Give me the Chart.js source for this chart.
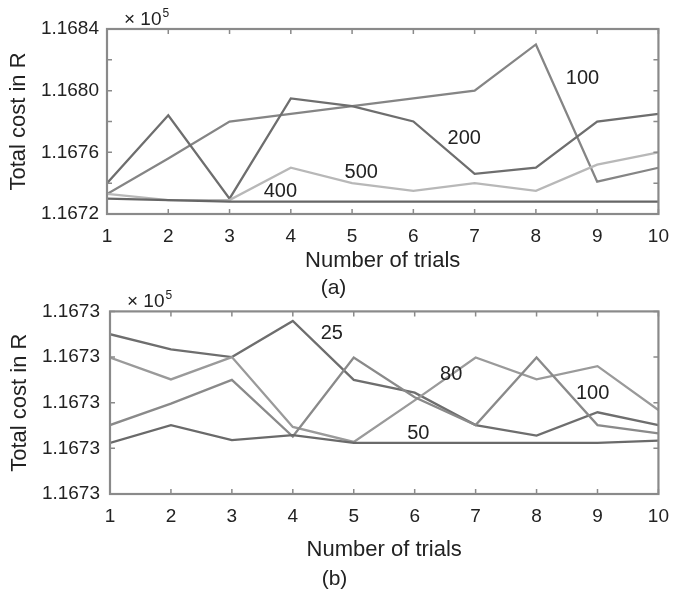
<!DOCTYPE html>
<html>
<head>
<meta charset="utf-8">
<script src="https://cdn.jsdelivr.net/npm/chart.js@4.4.0/dist/chart.umd.min.js"></script>
<style>
  body { margin: 0; background: #fff; }
  #wrapA { position: absolute; left: 0; top: 0; width: 680px; height: 305px; }
  #wrapB { position: absolute; left: 0; top: 290px; width: 680px; height: 302px; }
</style>
</head>
<body>
<div id="wrapA"><canvas id="chartA"></canvas></div>
<div id="wrapB"><canvas id="chartB"></canvas></div>
<script>
// trials on the x axis (both panels)
const trials = [1, 2, 3, 4, 5, 6, 7, 8, 9, 10];

// panel (a): total cost (x 10^5) per trial
const costA100 = [1.16733, 1.16756, 1.16780, 1.16785, 1.16790, 1.16795, 1.16800, 1.16830, 1.16741, 1.16750];
const costA200 = [1.16740, 1.16784, 1.16730, 1.16795, 1.16790, 1.16780, 1.16746, 1.16750, 1.16780, 1.16785];
const costA500 = [1.16733, 1.16729, 1.16729, 1.16750, 1.16740, 1.16735, 1.16740, 1.16735, 1.16752, 1.16760];
const costA400 = [1.16730, 1.16729, 1.16728, 1.16728, 1.16728, 1.16728, 1.16728, 1.16728, 1.16728, 1.16728];

// panel (b)
const costB25 = [1.1672950, 1.1672917, 1.1672900, 1.1672979, 1.1672850, 1.1672822, 1.1672751, 1.1672728, 1.1672779, 1.1672751];
const costB80 = [1.1672899, 1.1672851, 1.1672900, 1.1672747, 1.1672714, 1.1672805, 1.1672899, 1.1672851, 1.1672880, 1.1672784];
const costB100 = [1.1672751, 1.1672798, 1.1672850, 1.1672726, 1.1672899, 1.1672812, 1.1672751, 1.1672899, 1.1672751, 1.1672733];
const costB50 = [1.1672712, 1.1672751, 1.1672718, 1.1672729, 1.1672712, 1.1672712, 1.1672712, 1.1672712, 1.1672712, 1.1672717];

// y axis ranges / steps
const yRangeA = [1.1672, 1.1684, 0.0002];
const yRangeB = [1.16726, 1.16730, 0.00001];

// curve labels: [text, trial, cost]
const labelsA = [["100", 8.76, 1.168076], ["200", 6.83, 1.167693], ["500", 5.15, 1.167472], ["400", 3.83, 1.167349]];
const labelsB = [["25", 4.64, 1.1672952], ["80", 6.60, 1.1672862], ["100", 8.92, 1.1672821], ["50", 6.06, 1.1672732]];

const FONT = "'Liberation Sans', Arial, Helvetica, sans-serif";
const TXT = "#222";

function pts(arr) {
  return arr.map((v, i) => ({ x: trials[i], y: v }));
}

// MATLAB-ish frame with inward ticks, curve labels and the x10^5 note
const framePlugin = {
  id: "frame",
  afterDatasetsDraw(chart, args, opts) {
    const ctx = chart.ctx;
    const a = chart.chartArea;
    const x = chart.scales.x, y = chart.scales.y;
    ctx.save();
    ctx.strokeStyle = "#8a8a8a";
    ctx.lineWidth = 1.5;
    ctx.beginPath();
    x.ticks.forEach(t => {
      const px = x.getPixelForValue(t.value);
      ctx.moveTo(px, a.bottom); ctx.lineTo(px, a.bottom - 5);
      ctx.moveTo(px, a.top); ctx.lineTo(px, a.top + 5);
    });
    y.ticks.forEach(t => {
      const py = y.getPixelForValue(t.value);
      ctx.moveTo(a.left, py); ctx.lineTo(a.left + 5, py);
      ctx.moveTo(a.right, py); ctx.lineTo(a.right - 5, py);
    });
    ctx.stroke();
    ctx.lineWidth = 2.2;
    ctx.strokeRect(a.left, a.top, a.right - a.left, a.bottom - a.top);

    ctx.fillStyle = TXT;
    ctx.font = "20px " + FONT;
    ctx.textAlign = "center";
    ctx.textBaseline = "middle";
    opts.labels.forEach(l => {
      ctx.fillText(l[0], x.getPixelForValue(l[1]), y.getPixelForValue(l[2]));
    });

    ctx.textAlign = "left";
    ctx.textBaseline = "alphabetic";
    ctx.font = "19px " + FONT;
    ctx.fillText("\u00d7 10", a.left + 17, a.top - 4);
    const w = ctx.measureText("\u00d7 10").width;
    ctx.font = "12px " + FONT;
    ctx.fillText("5", a.left + 18 + w, a.top - 12);
    ctx.restore();
  }
};

function makeChart(id, sets, yr, labels, lay) {
  const ds = sets.map(s => ({
    data: pts(s[0]),
    borderColor: s[1],
    borderWidth: 2.3,
    pointRadius: 0,
    tension: 0,
    fill: false
  }));
  return new Chart(document.getElementById(id), {
    type: "line",
    data: { datasets: ds },
    options: {
      responsive: true,
      maintainAspectRatio: false,
      animation: false,
      layout: { padding: lay.padding },
      plugins: {
        legend: { display: false },
        tooltip: { enabled: false },
        title: {
          display: true,
          position: "bottom",
          text: lay.caption,
          color: TXT,
          font: { family: FONT, size: 21, weight: "normal", lineHeight: 1.2 },
          padding: { top: lay.capPad, bottom: 0 }
        },
        frame: { labels: labels }
      },
      scales: {
        x: {
          type: "linear",
          min: 1,
          max: 10,
          grid: { display: false, drawTicks: false },
          border: { display: false },
          ticks: {
            stepSize: 1,
            padding: 11,
            color: TXT,
            font: { family: FONT, size: 19 }
          },
          title: {
            display: true,
            text: "Number of trials",
            color: TXT,
            font: { family: FONT, size: 22, lineHeight: 1.2 },
            padding: 0
          },
          afterFit(s) { s.height = lay.xh; }
        },
        y: {
          min: yr[0],
          max: yr[1],
          grid: { display: false, drawTicks: false },
          border: { display: false },
          ticks: {
            stepSize: yr[2],
            autoSkip: false,
            padding: lay.ytp,
            color: TXT,
            font: { family: FONT, size: 19 },
            callback: (v, i) => (i % lay.every === 0 ? Number(v).toFixed(4) : "")
          },
          title: {
            display: true,
            text: "Total cost in R",
            color: TXT,
            font: { family: FONT, size: 22, lineHeight: 1.2 },
            padding: { top: lay.ytitle, bottom: 0 }
          },
          afterFit(s) { s.width = lay.yw; }
        }
      }
    },
    plugins: [framePlugin]
  });
}

makeChart("chartA",
  [[costA400, "#666666"], [costA500, "#b8b8b8"], [costA200, "#6e6e6e"], [costA100, "#858585"]],
  yRangeA, labelsA,
  { padding: { left: 0, right: 13, top: 29, bottom: 3.8 }, caption: "(a)", capPad: 2, xh: 60, yw: 107, ytp: 8, ytitle: 5.8, every: 2 });

makeChart("chartB",
  [[costB50, "#6a6a6a"], [costB100, "#8a8a8a"], [costB80, "#9a9a9a"], [costB25, "#6e6e6e"]],
  yRangeB, labelsB,
  { padding: { left: 0, right: 11, top: 18, bottom: 0.4 }, caption: "(b)", capPad: 3.7, xh: 68.7, yw: 110, ytp: 10, ytitle: 6.3, every: 1 });
</script>
</body>
</html>
